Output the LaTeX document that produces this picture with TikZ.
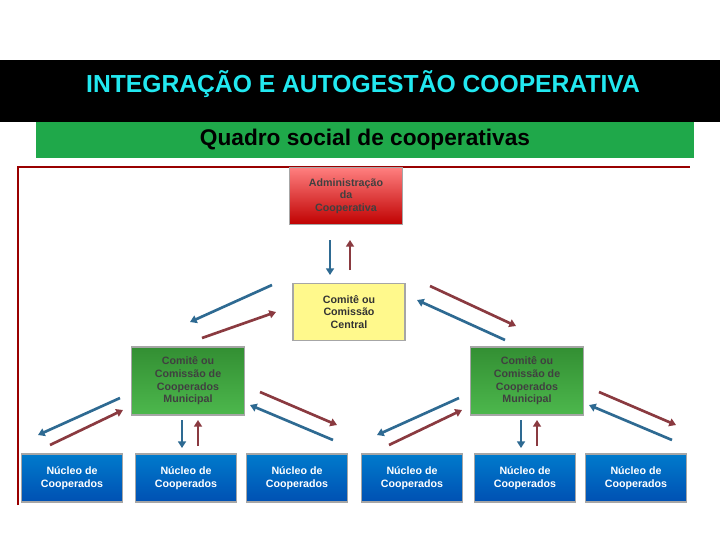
\documentclass[tikz,border=0pt]{standalone}
\usepackage{fontspec}
\setmainfont{Liberation Sans}
\usetikzlibrary{arrows.meta}
\definecolor{barr}{HTML}{2E6A92}
\definecolor{rarr}{HTML}{8A3A40}
\definecolor{band}{HTML}{1FA84A}
\definecolor{ttl}{HTML}{22E8F0}
\tikzset{
 box/.style={draw=gray!70,line width=1pt,align=center,font=\bfseries\footnotesize,inner sep=0pt},
 nuc/.style={box,top color=blue!40!cyan!80!black,bottom color=blue!55!cyan!70!black,text=white,minimum width=76pt,minimum height=36pt},
 mun/.style={box,top color=green!45!black!80,bottom color=green!60!black!70,text=black!75,minimum width=85pt,minimum height=51pt},
 ba/.style={barr,line width=2pt,-{Triangle[length=5pt,width=6pt]}},
 ra/.style={rarr,line width=2pt,-{Triangle[length=5pt,width=6pt]}},
}
\begin{document}
\begin{tikzpicture}[x=0.75pt,y=-0.75pt]
\useasboundingbox (0,0) rectangle (720,540);
\fill[white] (0,0) rectangle (720,540);
\fill[black] (0,60) rectangle (720,122);
\node[text=ttl,font=\bfseries\fontsize{18.5}{22}\selectfont] (title) at (363,84) {INTEGRAÇÃO E AUTOGESTÃO COOPERATIVA};
\fill[band] (36,122) rectangle (694,158);
\node[font=\bfseries\fontsize{17}{20}\selectfont] (sub) at (365,140) {Quadro social de cooperativas};
\draw[red!60!black,line width=0.8pt] (18,505) -- (18,167) -- (690,167);
\node[box,top color=red!50,bottom color=red!75!black,text=black!75,minimum width=85pt,minimum height=43pt] (adm) at (346,196) {Administração\\da\\Cooperativa};
\node[box,fill=yellow!45,text=black!80,minimum width=84pt,minimum height=43pt] (cen) at (349,312) {Comitê ou\\Comissão\\Central};
\node[mun] (ml) at (188,381) {Comitê ou\\Comissão de\\Cooperados\\Municipal};
\node[mun] (mr) at (527,381) {Comitê ou\\Comissão de\\Cooperados\\Municipal};
\foreach \n/\x in {n1/72,n2/186,n3/297,n4/412,n5/525,n6/636}{
 \node[nuc] (\n) at (\x,478) {Núcleo de\\Cooperados};}
\coordinate (a1) at (330,240); \coordinate (a2) at (330,275);
\coordinate (a3) at (350,270); \coordinate (a4) at (350,240);
\draw[ba] (a1) -- (a2); \draw[ra] (a3) -- (a4);
\coordinate (b1) at (272,285); \coordinate (b2) at (190,322);
\coordinate (b3) at (202,338); \coordinate (b4) at (276,312);
\draw[ba] (b1) -- (b2); \draw[ra] (b3) -- (b4);
\coordinate (c1) at (430,286); \coordinate (c2) at (516,326);
\coordinate (c3) at (505,340); \coordinate (c4) at (417,300);
\draw[ra] (c1) -- (c2); \draw[ba] (c3) -- (c4);
\foreach \o/\p in {0/ml,339/mr}{
 \begin{scope}[xshift=\o*0.75pt]
 \draw[ba] (120,398) -- (38,435); \draw[ra] (50,445) -- (123,410);
 \draw[ra] (260,392) -- (337,425); \draw[ba] (333,440) -- (250,405);
 \draw[ba] (182,420) -- (182,448); \draw[ra] (198,446) -- (198,420);
 \end{scope}}
\end{tikzpicture}
\end{document}
